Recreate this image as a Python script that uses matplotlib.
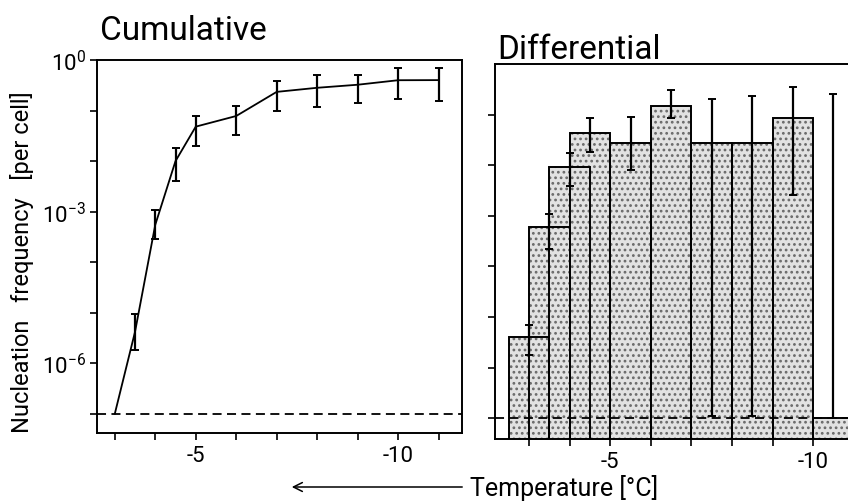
import matplotlib
matplotlib.use('Agg')
import matplotlib.pyplot as plt
from matplotlib.ticker import FixedLocator, FixedFormatter, NullLocator

FONT = 'Roboto'
plt.rcParams['font.family'] = [FONT, 'DejaVu Sans']
plt.rcParams['font.weight'] = 'normal'
plt.rcParams['axes.unicode_minus'] = False
plt.rcParams['mathtext.fontset'] = 'custom'
plt.rcParams['mathtext.rm'] = FONT
plt.rcParams['mathtext.it'] = FONT
plt.rcParams['hatch.linewidth'] = 1.2

# ---------------- data ----------------
# Cumulative curve (temperature in degC, nucleation frequency per cell)
cum_temp = [-3, -3.5, -4, -4.5, -5, -6, -7, -8, -9, -10, -11]
cum_freq = [1.0e-7, 4.2e-6, 5.5e-4, 1.0e-2, 4.8e-2, 7.8e-2, 0.234, 0.282, 0.324, 0.398, 0.40]
# error bars for points 2..11
cum_err_temp = [-3.5, -4, -4.5, -5, -6, -7, -8, -9, -10, -11]
cum_err_center = [4.2e-6, 5.5e-4, 1.0e-2, 4.8e-2, 7.8e-2, 0.234, 0.282, 0.324, 0.398, 0.40]
cum_err_high = [9.5e-6, 1.07e-3, 1.8e-2, 7.8e-2, 0.123, 0.38, 0.50, 0.50, 0.69, 0.69]
cum_err_low = [1.8e-6, 2.9e-4, 4.1e-3, 2.0e-2, 3.3e-2, 0.098, 0.117, 0.141, 0.17, 0.155]

# Differential histogram (bins, heights, error bars)
diff_left = [-2.5, -3, -3.5, -4, -5, -6, -7, -8, -9, -10]
diff_right = [-3.5, -4, -4.5, -5, -6, -7, -8, -9, -10, -11]
diff_freq = [4.0e-6, 5.9e-4, 9.3e-3, 4.4e-2, 2.8e-2, 0.145, 2.7e-2, 2.7e-2, 8.7e-2, 1.0e-7]
diff_err_high = [7.1e-6, 1.07e-3, 1.78e-2, 8.7e-2, 9.1e-2, 0.30, 0.20, 0.23, 0.355, 0.25]
diff_err_low = [1.74e-6, 2.2e-4, 3.8e-3, 1.86e-2, 7.9e-3, 8.7e-2, 1.1e-7, 1.1e-7, 2.6e-3, 1.0e-7]

detection_limit = 1.0e-7

x_ticks_left = [-3, -4, -5, -6, -7, -8, -9, -10, -11]
x_ticks_right = [-3, -4, -5, -6, -7, -8, -9, -10]
x_labels_left = ['', '', '-5', '', '', '', '', '-10', '']
x_labels_right = ['', '', '-5', '', '', '', '', '-10']
y_ticks_left = [1e0, 1e-1, 1e-2, 1e-3, 1e-4, 1e-5, 1e-6, 1e-7]
y_labels_left = [r'$\mathregular{10^{0}}$', '', '', r'$\mathregular{10^{-3}}$', '', '',
                 r'$\mathregular{10^{-6}}$', '']
y_ticks_right = [1e-1, 1e-2, 1e-3, 1e-4, 1e-5, 1e-6, 1e-7]

# ---------------- figure ----------------
W, H = 848, 502
fig = plt.figure(figsize=(W / 100, H / 100), dpi=100)

def fx(px):
    return px / W

def fy(py):
    return 1 - py / H

ax1 = fig.add_axes([fx(97), fy(434), fx(462) - fx(97), fy(61) - fy(434)])
ax2 = fig.add_axes([fx(495), fy(440), 1.0 - fx(495), fy(65) - fy(440)])

for ax in (ax1, ax2):
    ax.set_yscale('log')
    for s in ax.spines.values():
        s.set_linewidth(1.4)
    ax.tick_params(direction='out', length=5, width=1.2, labelsize=16, pad=3)
    ax.tick_params(axis='x', pad=4)
    ax.yaxis.set_minor_locator(NullLocator())
    ax.xaxis.set_minor_locator(NullLocator())

# Cumulative panel
ax1.set_xlim(-2.56, -11.58)
ax1.set_ylim(10 ** -7.38, 1.0)
ax1.plot(cum_temp, cum_freq, color='black', lw=1.3)
yerr1 = [[c - l for c, l in zip(cum_err_center, cum_err_low)],
         [h - c for c, h in zip(cum_err_center, cum_err_high)]]
ax1.errorbar(cum_err_temp, cum_err_center, yerr=yerr1, fmt='none', ecolor='black',
             elinewidth=1.6, capsize=3, capthick=1.4)
ax1.axhline(detection_limit, color='black', lw=1.3, ls=(0, (5, 3)))
ax1.xaxis.set_major_locator(FixedLocator(x_ticks_left))
ax1.xaxis.set_major_formatter(FixedFormatter(x_labels_left))
ax1.yaxis.set_major_locator(FixedLocator(y_ticks_left))
ax1.yaxis.set_major_formatter(FixedFormatter(y_labels_left))

# Differential panel
ax2.set_xlim(-2.16, -10.86)
ax2.set_ylim(10 ** -7.41, 1.0)
widths = [r - l for l, r in zip(diff_left, diff_right)]
ax2.bar(diff_left, [f - 1e-9 for f in diff_freq], width=widths, bottom=1e-9, align='edge',
        facecolor='#e2e2e2', edgecolor='#6a6a6a', linewidth=0, hatch='...')
ax2.bar(diff_left, [f - 1e-9 for f in diff_freq], width=widths, bottom=1e-9, align='edge',
        fill=False, edgecolor='black', linewidth=1.4)
centers = [(l + r) / 2 for l, r in zip(diff_left, diff_right)]
yerr2 = [[c - l for c, l in zip(diff_freq, diff_err_low)],
         [h - c for c, h in zip(diff_freq, diff_err_high)]]
ax2.errorbar(centers, diff_freq, yerr=yerr2, fmt='none', ecolor='black',
             elinewidth=1.6, capsize=3, capthick=1.4)
ax2.axhline(detection_limit, color='black', lw=1.3, ls=(0, (5, 3)))
ax2.spines['right'].set_visible(False)
ax2.xaxis.set_major_locator(FixedLocator(x_ticks_right))
ax2.xaxis.set_major_formatter(FixedFormatter(x_labels_right))
ax2.yaxis.set_major_locator(FixedLocator(y_ticks_right))
ax2.yaxis.set_major_formatter(FixedFormatter([''] * len(y_ticks_right)))

# Titles and labels
fig.text(fx(100), fy(40), 'Cumulative', fontsize=24, ha='left', va='baseline')
fig.text(fx(497), fy(59), 'Differential', fontsize=24, ha='left', va='baseline')
fig.text(fx(22), fy(262), 'Nucleation   frequency   [per cell]', rotation=90,
         fontsize=17, ha='center', va='center')
fig.text(fx(470), fy(488), 'Temperature [°C]', fontsize=18, ha='left', va='center')
fig.add_artist(matplotlib.patches.FancyArrowPatch(
    (fx(465), fy(488)), (fx(289), fy(488)), transform=fig.transFigure,
    arrowstyle='->', mutation_scale=16, lw=1.1, color='black'))

fig.savefig('out.png', dpi=100)
